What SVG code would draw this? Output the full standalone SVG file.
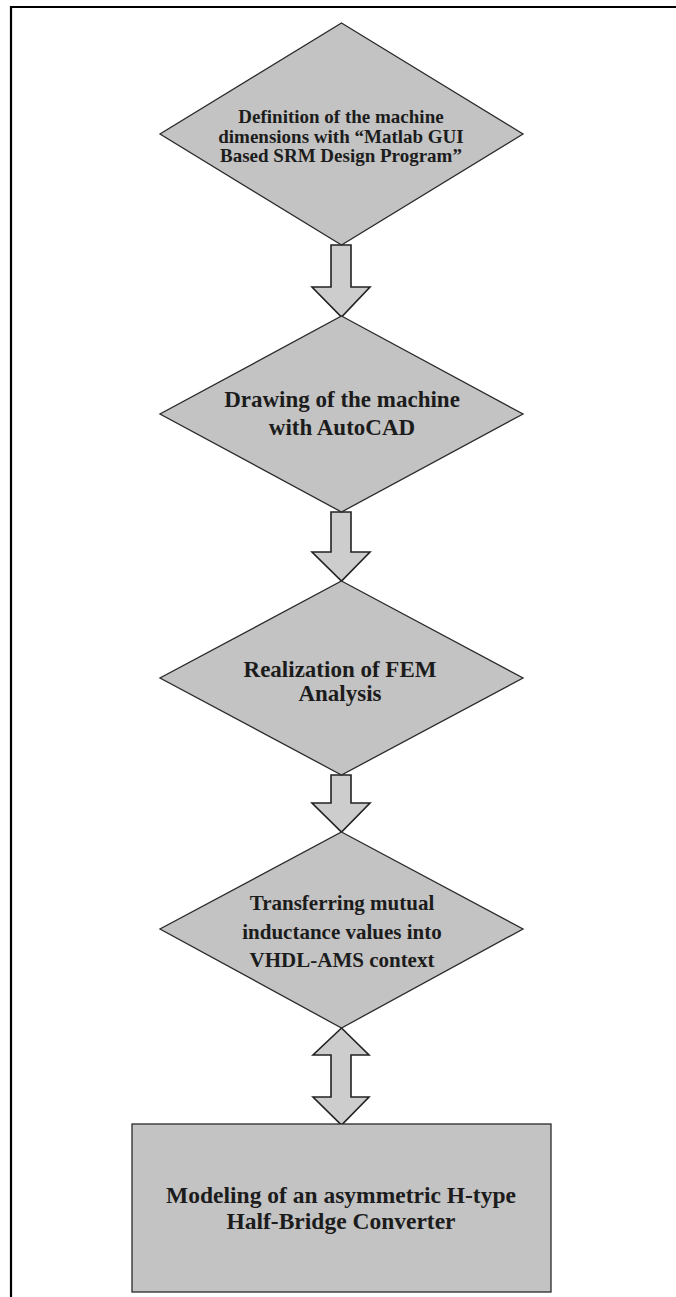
<svg xmlns="http://www.w3.org/2000/svg" width="676" height="1297" viewBox="0 0 676 1297">
<style>
.shape{fill:#c3c3c3;stroke:#2a2a2a;stroke-width:1.3;stroke-linejoin:miter}
.arrow{fill:#cdcdcd;stroke:#222;stroke-width:1.6;stroke-linejoin:miter}
.t{font-family:"Liberation Serif","Times New Roman",serif;font-weight:bold;fill:#1c1c1c;text-anchor:middle}
</style>
<rect x="0" y="0" width="676" height="1297" fill="#ffffff"/>
<polyline points="11,1297 11,7 676,7" fill="none" stroke="#000" stroke-width="2.2"/>
<g id="connectors">
<polygon class="arrow" points="331,245 351,245 351,287 370,287 341.5,317 312,287 331,287"/>
<polygon class="arrow" points="331,512 351,512 351,552 370,552 341.5,581 312,552 331,552"/>
<polygon class="arrow" points="331,775 351,775 351,803 370,803 341.5,832 312,803 331,803"/>
<polygon class="arrow" points="341.5,1028 369,1055 351,1055 351,1097 369,1097 341.5,1125 313,1097 331,1097 331,1055 313,1055"/>
</g>
<g id="n1">
<polygon class="shape" points="341.5,23 523,134 341.5,245 160,134"/>
<text class="t" font-size="19" x="341" y="123">Definition of the machine</text>
<text class="t" font-size="19" x="341" y="142.5">dimensions with “Matlab GUI</text>
<text class="t" font-size="19" x="341" y="162">Based SRM Design Program”</text>
</g>
<g id="n2">
<polygon class="shape" points="341.5,316 523,414 341.5,512 160,414"/>
<text class="t" font-size="23" x="342" y="407">Drawing of the machine</text>
<text class="t" font-size="23" x="342" y="435">with AutoCAD</text>
</g>
<g id="n3">
<polygon class="shape" points="341.5,581 523,678 341.5,775 160,678"/>
<text class="t" font-size="23" x="340" y="677">Realization of FEM</text>
<text class="t" font-size="23" x="340" y="701">Analysis</text>
</g>
<g id="n4">
<polygon class="shape" points="341.5,832 523,929 341.5,1028 160,929"/>
<text class="t" font-size="21" x="342" y="910">Transferring mutual</text>
<text class="t" font-size="21" x="342" y="938.5">inductance values into</text>
<text class="t" font-size="21" x="342" y="967">VHDL-AMS context</text>
</g>
<g id="n5">
<rect class="shape" x="132" y="1124" width="419" height="168"/>
<text class="t" font-size="23.5" x="341" y="1203">Modeling of an asymmetric H-type</text>
<text class="t" font-size="23.5" x="341" y="1229">Half-Bridge Converter</text>
</g>
</svg>
